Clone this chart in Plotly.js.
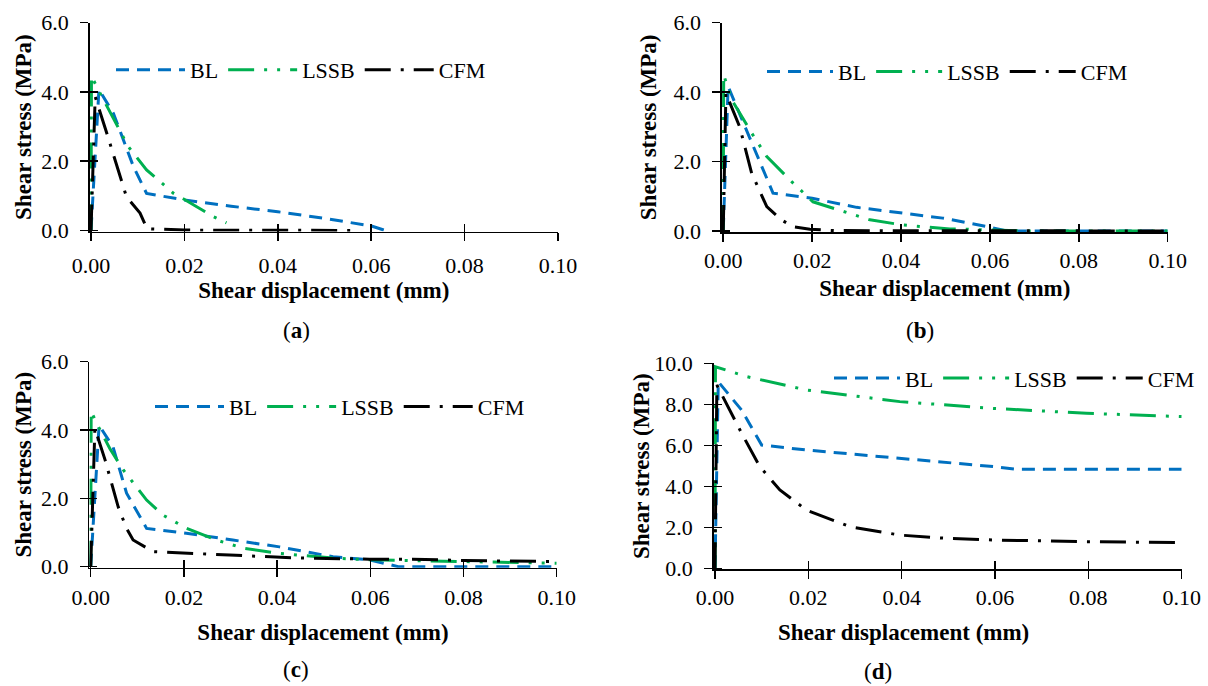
<!DOCTYPE html>
<html><head><meta charset="utf-8">
<script src="https://cdn.plot.ly/plotly-3.0.1.min.js"></script>
<style>html,body{margin:0;padding:0;background:#fff}#chart{width:1208px;height:686px}</style>
</head><body><div id="chart"></div>
<script>
// ---------- data ----------
const seriesNames = ['BL', 'LSSB', 'CFM'];
const panelLetters = ['a', 'b', 'c', 'd'];
const xTickVals = [0, 0.02, 0.04, 0.06, 0.08, 0.10];
const xTickText = ['0.00', '0.02', '0.04', '0.06', '0.08', '0.10'];
const yTickVals6 = [0, 2, 4, 6];
const yTickText6 = ['0.0', '2.0', '4.0', '6.0'];
const yTickVals10 = [0, 2, 4, 6, 8, 10];
const yTickText10 = ['0.0', '2.0', '4.0', '6.0', '8.0', '10.0'];
const xTitle = 'Shear displacement (mm)';
const yTitle = 'Shear stress (MPa)';

// (a)
const aBL_x = [0, 0.0017, 0.0048, 0.0091, 0.0119, 0.02, 0.03, 0.04, 0.05, 0.06, 0.063];
const aBL_y = [0, 4.07, 3.38, 1.84, 1.07, 0.88, 0.70, 0.54, 0.35, 0.13, 0];
const aLSSB_x = [0, 0.0001, 0.0016, 0.0042, 0.008, 0.0119, 0.0177, 0.0202, 0.0262, 0.029];
const aLSSB_y = [0, 4.46, 4.05, 3.38, 2.42, 1.75, 1.07, 0.88, 0.40, 0.22];
const aCFM_x = [0, 0.0009, 0.0034, 0.0076, 0.0105, 0.012, 0.02, 0.057];
const aCFM_y = [0, 3.86, 2.8, 0.97, 0.5, 0.05, 0.01, 0];
// (b)
const bBL_x = [0, 0.0011, 0.0112, 0.02, 0.03, 0.0375, 0.0494, 0.06, 0.0637, 0.1];
const bBL_y = [0, 4.16, 1.09, 0.94, 0.68, 0.56, 0.37, 0.11, 0, 0];
const bLSSB_x = [0, 0.0001, 0.0019, 0.0064, 0.0098, 0.0154, 0.0202, 0.027, 0.033, 0.0405, 0.051, 0.069, 0.1];
const bLSSB_y = [0, 4.5, 3.78, 2.82, 2.14, 1.42, 0.84, 0.56, 0.32, 0.17, 0.06, 0, 0];
const bCFM_x = [0, 0.0006, 0.0037, 0.0064, 0.0098, 0.0131, 0.0157, 0.0195, 0.025, 0.1];
const bCFM_y = [0, 3.97, 3.0, 1.66, 0.7, 0.32, 0.12, 0.05, 0.01, 0];
// (c)
const cBL_x = [0, 0.0018, 0.0048, 0.0077, 0.012, 0.0205, 0.0305, 0.0405, 0.052, 0.0598, 0.066, 0.1];
const cBL_y = [0, 4.14, 3.5, 2.15, 1.12, 0.98, 0.78, 0.58, 0.29, 0.2, 0, 0];
const cLSSB_x = [0, 0.0001, 0.0013, 0.0041, 0.007, 0.012, 0.0155, 0.0206, 0.027, 0.0327, 0.0405, 0.052, 0.0598, 0.08, 0.1];
const cLSSB_y = [0, 4.55, 4.19, 3.46, 2.83, 1.95, 1.51, 1.12, 0.78, 0.54, 0.39, 0.25, 0.2, 0.15, 0.1];
const cCFM_x = [0, 0.0009, 0.0031, 0.0059, 0.0077, 0.0091, 0.0134, 0.0205, 0.0298, 0.0434, 0.0598, 0.069, 0.08, 0.1];
const cCFM_y = [0, 4.05, 3.12, 1.75, 1.12, 0.78, 0.44, 0.39, 0.34, 0.26, 0.22, 0.22, 0.18, 0.15];
// (d)
const dBL_x = [0, 0.0007, 0.0057, 0.01, 0.0196, 0.0396, 0.0596, 0.0646, 0.1];
const dBL_y = [0, 9.1, 7.72, 6.01, 5.77, 5.37, 4.96, 4.83, 4.83];
const dLSSB_x = [0, 0.0001, 0.0068, 0.0196, 0.0396, 0.0596, 0.0796, 0.1];
const dLSSB_y = [0, 9.83, 9.35, 8.7, 8.13, 7.8, 7.56, 7.4];
const dCFM_x = [0, 0.0004, 0.0057, 0.0096, 0.0139, 0.0196, 0.0289, 0.0396, 0.0496, 0.0596, 0.0796, 0.1];
const dCFM_y = [0, 8.94, 6.59, 4.96, 3.82, 2.84, 2.03, 1.62, 1.46, 1.38, 1.30, 1.25];

// ---------- layout helpers ----------
const W = 1208, H = 686;
const FONT = 'Liberation Serif, Times New Roman, serif';
const dx = (l, r) => [l / W, r / W];
const dy = (t, b) => [1 - b / H, 1 - t / H];

const panelData = [
  [[aBL_x, aBL_y], [aLSSB_x, aLSSB_y], [aCFM_x, aCFM_y]],
  [[bBL_x, bBL_y], [bLSSB_x, bLSSB_y], [bCFM_x, bCFM_y]],
  [[cBL_x, cBL_y], [cLSSB_x, cLSSB_y], [cCFM_x, cCFM_y]],
  [[dBL_x, dBL_y], [dLSSB_x, dLSSB_y], [dCFM_x, dCFM_y]]
];
const styles = [
  {color: '#0070C0', dash: '13px,8px'},
  {color: '#00B050', dash: '26px,10px,3px,10px,3px,10px'},
  {color: '#000000', dash: '26px,10px,3px,10px'}
];
const panels = [
  {xd: dx(89.6, 558), yd: dy(22.7, 231.5), yr: [-0.03, 6], yv: yTickVals6, yt: yTickText6,
   leg: [111, 70], iw: 69, lab: [296, 330], xls: 6, xts: 2, yts: 3},
  {xd: dx(721.9, 1167.7), yd: dy(22.7, 232), yr: [-0.03, 6], yv: yTickVals6, yt: yTickText6,
   leg: [762, 71.7], iw: 66, lab: [920, 330], xls: 7.5, xts: 8, yts: 10},
  {xd: dx(89.3, 556.7), yd: dy(361.7, 567.7), yr: [-0.03, 6], yv: yTickVals6, yt: yTickText6,
   leg: [150, 406.7], iw: 69, lab: [296, 669], xls: 1, xts: 15, yts: 3},
  {xd: dx(713.6, 1181.7), yd: dy(363.3, 569.3), yr: [-0.05, 10], yv: yTickVals10, yt: yTickText10,
   leg: [829, 378.3], iw: 66, lab: [877.5, 671], xls: 6.5, xts: 1, yts: 1}
];
const xRange = [-0.0003, 0.1];

const traces = [];
const layout = {
  width: W, height: H,
  margin: {l: 0, r: 0, t: 0, b: 0},
  paper_bgcolor: '#fff', plot_bgcolor: 'rgba(0,0,0,0)',
  font: {family: FONT, color: '#000'},
  showlegend: true,
  annotations: []
};

const titleFont = {family: FONT, size: 23, weight: 'bold', color: '#000'};
const axisBase = {
  showline: true, linecolor: '#000', linewidth: 1.5,
  ticks: 'outside', ticklen: 8, tickwidth: 1.5, tickcolor: '#000',
  showgrid: false, zeroline: false, fixedrange: true,
  tickfont: {family: FONT, size: 22, color: '#000'}
};
const overlayBase = {
  showline: false, showgrid: false, zeroline: false, fixedrange: true,
  ticks: 'inside', ticklen: 8, tickwidth: 1.5, tickcolor: '#000',
  tickmode: 'array', showticklabels: false
};

panels.forEach((p, i) => {
  const n = i + 1;
  const xs = i ? 'x' + n : 'x';
  const ys = i ? 'y' + n : 'y';
  const xk = i ? 'xaxis' + n : 'xaxis';
  const yk = i ? 'yaxis' + n : 'yaxis';
  const lk = i ? 'legend' + n : 'legend';
  const isD = i === 3;

  layout[xk] = Object.assign({}, axisBase, {
    domain: p.xd, anchor: ys, range: xRange,
    tickmode: 'array', tickvals: xTickVals, ticktext: xTickText,
    ticklabelstandoff: p.xls,
    title: isD ? {text: ''} : {text: xTitle, font: titleFont, standoff: p.xts}
  });
  layout[yk] = Object.assign({}, axisBase, {
    domain: p.yd, anchor: xs, range: p.yr,
    tickmode: 'array', tickvals: p.yv, ticktext: p.yt,
    ticklabelstandoff: 7,
    title: isD ? {text: ''} : {text: yTitle, font: titleFont, standoff: p.yts}
  });
  // overlay axes so that the tick marks cross the axis lines
  const oxn = 'x' + (n + 4), oyn = 'y' + (n + 4);
  layout['xaxis' + (n + 4)] = Object.assign({}, overlayBase, {overlaying: xs, anchor: ys, range: xRange, tickvals: xTickVals});
  layout['yaxis' + (n + 4)] = Object.assign({}, overlayBase, {overlaying: ys, anchor: xs, range: p.yr, tickvals: p.yv});
  traces.push({x: [null], y: [null], xaxis: oxn, yaxis: ys, type: 'scatter', mode: 'lines', showlegend: false, hoverinfo: 'skip'});
  traces.push({x: [null], y: [null], xaxis: xs, yaxis: oyn, type: 'scatter', mode: 'lines', showlegend: false, hoverinfo: 'skip'});

  layout[lk] = {
    orientation: 'h', x: p.leg[0] / W, y: 1 - p.leg[1] / H, xanchor: 'left', yanchor: 'middle',
    bgcolor: 'rgba(0,0,0,0)', borderwidth: 0, itemwidth: p.iw,
    font: {family: FONT, size: 22, color: '#000'}
  };

  panelData[i].forEach((s, k) => {
    traces.push({
      x: s[0], y: s[1], xaxis: xs, yaxis: ys, type: 'scatter', mode: 'lines',
      name: seriesNames[k], legend: lk, showlegend: true, hoverinfo: 'skip',
      line: {color: styles[k].color, width: 3, dash: styles[k].dash}
    });
  });

  layout.annotations.push({
    text: '(<b>' + panelLetters[i] + '</b>)', xref: 'paper', yref: 'paper',
    x: p.lab[0] / W, y: 1 - p.lab[1] / H, xanchor: 'center', yanchor: 'middle',
    showarrow: false, font: {family: FONT, size: 23, color: '#000'}
  });
});

// panel (d) axis titles sit off-centre in the reference, so they are placed directly
layout.annotations.push({
  text: '<b>' + xTitle + '</b>', xref: 'paper', yref: 'paper',
  x: 903 / W, y: 1 - 632 / H, xanchor: 'center', yanchor: 'middle',
  showarrow: false, font: {family: FONT, size: 23, color: '#000'}
});
layout.annotations.push({
  text: '<b>' + yTitle + '</b>', xref: 'paper', yref: 'paper', textangle: -90,
  x: 642 / W, y: 1 - 466 / H, xanchor: 'center', yanchor: 'middle',
  showarrow: false, font: {family: FONT, size: 23, color: '#000'}
});

Plotly.newPlot('chart', traces, layout, {displayModeBar: false, staticPlot: true});
</script></body></html>
